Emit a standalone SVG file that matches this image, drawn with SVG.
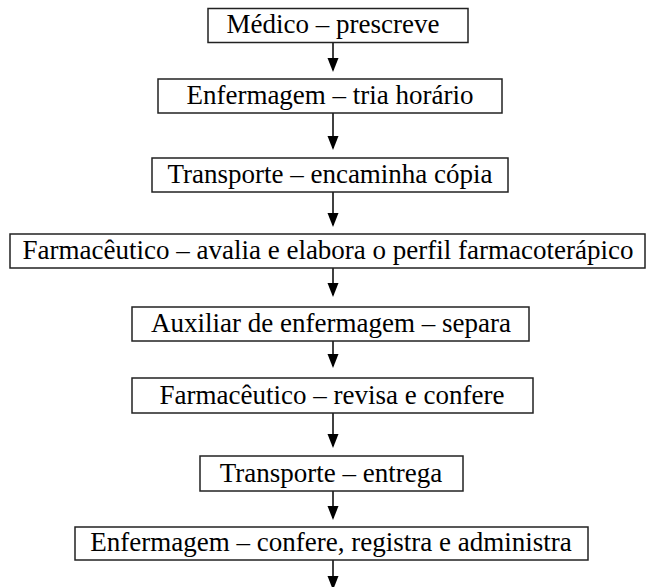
<svg xmlns="http://www.w3.org/2000/svg" width="653" height="587" viewBox="0 0 653 587">
<style>
.box{fill:#fff;stroke:#222;stroke-width:1.5}
.lbl{font-size:27px;fill:#000;text-anchor:middle}
</style>
<rect width="653" height="587" fill="#fff"/>
<g id="connectors" stroke="#000" stroke-width="1.5">
<line x1="333" y1="42" x2="333" y2="70"/>
<polygon points="327.5,58 338.5,58 333,72" fill="#000" stroke="none"/>
<line x1="333" y1="113" x2="333" y2="148"/>
<polygon points="327.5,136 338.5,136 333,150" fill="#000" stroke="none"/>
<line x1="333" y1="192" x2="333" y2="225"/>
<polygon points="327.5,213 338.5,213 333,227" fill="#000" stroke="none"/>
<line x1="333" y1="268" x2="333" y2="295"/>
<polygon points="327.5,283 338.5,283 333,297" fill="#000" stroke="none"/>
<line x1="333" y1="341" x2="333" y2="366"/>
<polygon points="327.5,354 338.5,354 333,368" fill="#000" stroke="none"/>
<line x1="333" y1="413" x2="333" y2="446"/>
<polygon points="327.5,434 338.5,434 333,448" fill="#000" stroke="none"/>
<line x1="333" y1="491" x2="333" y2="518"/>
<polygon points="327.5,506 338.5,506 333,520" fill="#000" stroke="none"/>
<line x1="333" y1="560" x2="333" y2="590"/>
<polygon points="327.5,576 338.5,576 333,590" fill="#000" stroke="none"/>
</g>
<g font-family="'Liberation Serif', 'Times New Roman', 'DejaVu Serif', serif">
<g id="n1"><rect class="box" x="208" y="8.5" width="260" height="34"/><text class="lbl" x="333" y="33">Médico – prescreve</text></g>
<g id="n2"><rect class="box" x="158" y="79" width="344" height="34"/><text class="lbl" x="330" y="104">Enfermagem – tria horário</text></g>
<g id="n3"><rect class="box" x="152" y="158" width="356" height="34"/><text class="lbl" x="330" y="183">Transporte – encaminha cópia</text></g>
<g id="n4"><rect class="box" x="10" y="234" width="635" height="34"/><text class="lbl" x="328" y="259">Farmacêutico – avalia e elabora o perfil farmacoterápico</text></g>
<g id="n5"><rect class="box" x="132" y="307" width="397" height="34"/><text class="lbl" x="331" y="332">Auxiliar de enfermagem – separa</text></g>
<g id="n6"><rect class="box" x="132" y="378" width="401" height="35"/><text class="lbl" x="332" y="404">Farmacêutico – revisa e confere</text></g>
<g id="n7"><rect class="box" x="200" y="456" width="263" height="35"/><text class="lbl" x="331" y="482">Transporte – entrega</text></g>
<g id="n8"><rect class="box" x="75" y="527" width="513" height="33"/><text class="lbl" x="331" y="551">Enfermagem – confere, registra e administra</text></g>
</g>
</svg>
